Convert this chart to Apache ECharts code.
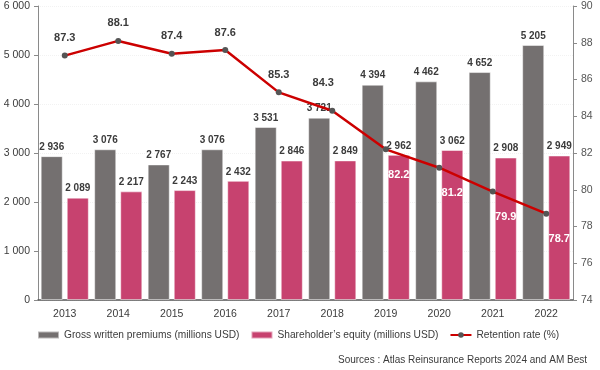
<!DOCTYPE html>
<html><head><meta charset="utf-8">
<script src="https://cdn.jsdelivr.net/npm/echarts@6/dist/echarts.min.js"></script>
<style>html,body{margin:0;padding:0;background:#fff}#c{width:600px;height:370px}</style>
</head><body><div id="c"></div>
<script>
const years = ['2013','2014','2015','2016','2017','2018','2019','2020','2021','2022'];
const premiums = [2936,3076,2767,3076,3531,3721,4394,4462,4652,5205];
const equity = [2089,2217,2243,2432,2846,2849,2962,3062,2908,2949];
const retention = [87.3,88.1,87.4,87.6,85.3,84.3,82.2,81.2,79.9,78.7];
const seriesNames = ['Gross written premiums (millions USD)','Shareholder\u2019s equity (millions USD)','Retention rate (%)'];
const sourceText = 'Sources : Atlas Reinsurance Reports 2024 and AM Best';

const FONT = 'Liberation Sans';
const TXT = '#3b3b3b';
const fmt = v => String(v).replace(/\B(?=(\d{3})+(?!\d))/g, ' ');

const lineData = retention.map((v, i) => {
  if (i >= 6) {
    return {value: v, label: {position: 'bottom', offset: [13, 8], color: '#fff'}};
  }
  if (i === 5) {
    return {value: v, label: {offset: [-9, -10]}};
  }
  return v;
});

const chart = echarts.init(document.getElementById('c'), null, {renderer: 'canvas'});
chart.setOption({
  animation: false,
  textStyle: {fontFamily: FONT},
  grid: {left: 38, right: 27, top: 6, bottom: 70},
  legend: {
    left: 37, top: 330, padding: 0, itemGap: 11, itemWidth: 21, itemHeight: 7,
    textStyle: {fontFamily: FONT, fontSize: 10.2, color: TXT},
    data: [
      {name: seriesNames[0], icon: 'rect'},
      {name: seriesNames[1], icon: 'rect'},
      {name: seriesNames[2]}
    ]
  },
  xAxis: {
    type: 'category', data: years,
    axisLine: {lineStyle: {color: '#555', width: 1.5}},
    axisTick: {show: false},
    axisLabel: {fontFamily: FONT, fontSize: 10.5, color: TXT, margin: 9}
  },
  yAxis: [{
    type: 'value', min: 0, max: 6000, interval: 1000,
    axisLine: {show: true, lineStyle: {color: '#8a8a8a'}},
    axisTick: {show: true, length: 4, lineStyle: {color: '#8a8a8a'}},
    axisLabel: {fontFamily: FONT, fontSize: 10.5, color: TXT, margin: 8, formatter: fmt},
    splitLine: {show: true, lineStyle: {color: '#f2f2f2', type: 'dotted'}}
  }, {
    type: 'value', min: 74, max: 90, interval: 2,
    axisLine: {show: true, lineStyle: {color: '#8a8a8a'}},
    axisTick: {show: true, length: 4, lineStyle: {color: '#8a8a8a'}},
    axisLabel: {fontFamily: FONT, fontSize: 10.5, color: '#555', margin: 8},
    splitLine: {show: false}
  }],
  series: [{
    name: seriesNames[0], type: 'bar', data: premiums,
    barGap: '18%', barCategoryGap: '10%',
    itemStyle: {color: '#747070', borderColor: 'rgba(255,255,255,0.5)', borderWidth: 1},
    label: {show: true, position: 'top', distance: 4, fontFamily: FONT, fontSize: 10, fontWeight: 'bold', color: TXT, formatter: p => fmt(p.value)}
  }, {
    name: seriesNames[1], type: 'bar', data: equity,
    itemStyle: {color: '#c7426f', borderColor: 'rgba(255,255,255,0.5)', borderWidth: 1},
    label: {show: true, position: 'top', distance: 4, fontFamily: FONT, fontSize: 10, fontWeight: 'bold', color: TXT, formatter: p => fmt(p.value)}
  }, {
    name: seriesNames[2], type: 'line', yAxisIndex: 1, data: lineData,
    lineStyle: {color: '#cc0000', width: 2.5},
    itemStyle: {color: '#555'},
    symbol: 'circle', symbolSize: 6,
    label: {show: true, position: 'top', distance: 9, fontFamily: FONT, fontSize: 11, fontWeight: 'bold', color: TXT, formatter: p => p.value.toFixed(1)},
    z: 5
  }],
  graphic: [{
    type: 'text', right: 13, top: 355,
    style: {text: sourceText, fontFamily: FONT, fontSize: 10, fill: TXT}
  }]
});
</script></body></html>
